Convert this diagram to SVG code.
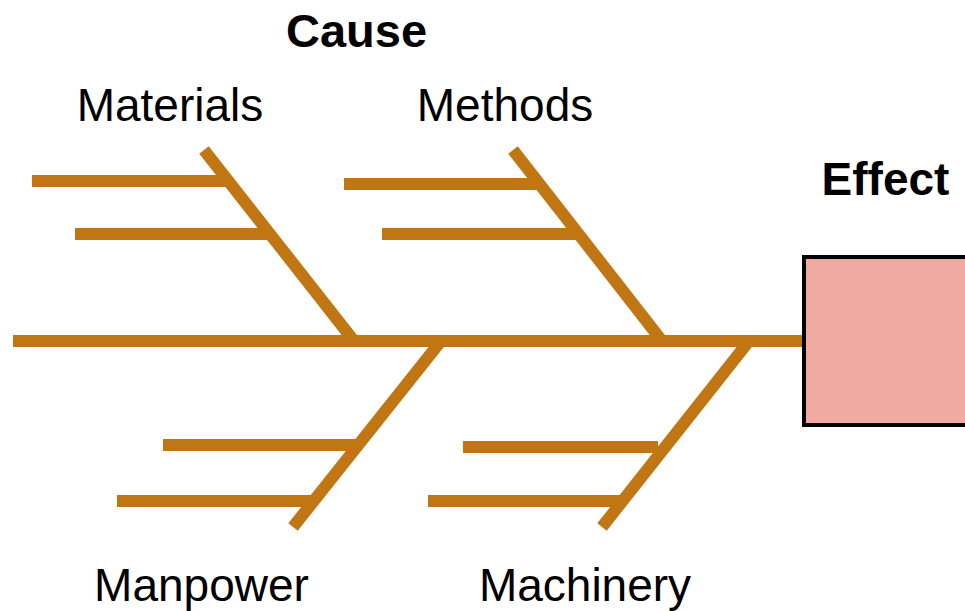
<svg xmlns="http://www.w3.org/2000/svg" width="965" height="611" viewBox="0 0 965 611">
<style>
.bone{stroke:#C07613;stroke-width:12;fill:none;stroke-linecap:butt}
.lbl{font-family:"Liberation Sans",Arial,sans-serif;font-size:46px;fill:#000;text-anchor:middle}
.hd{font-family:"Liberation Sans",Arial,sans-serif;font-size:46px;font-weight:bold;fill:#000;text-anchor:middle}
</style>
<rect width="965" height="611" fill="#fff"/>
<g id="connectors">
<line class="bone" x1="13" y1="341" x2="804" y2="341"/>
<line class="bone" x1="204" y1="150" x2="354" y2="341"/>
<line class="bone" x1="32" y1="181" x2="229" y2="181"/>
<line class="bone" x1="75" y1="234" x2="270" y2="234"/>
<line class="bone" x1="513" y1="150" x2="662" y2="341"/>
<line class="bone" x1="344" y1="184" x2="539" y2="184"/>
<line class="bone" x1="382" y1="234" x2="578" y2="234"/>
<line class="bone" x1="441" y1="341" x2="293" y2="527"/>
<line class="bone" x1="163" y1="445" x2="357" y2="445"/>
<line class="bone" x1="117" y1="501" x2="314" y2="501"/>
<line class="bone" x1="749" y1="341" x2="602" y2="527"/>
<line class="bone" x1="463" y1="447" x2="658" y2="447"/>
<line class="bone" x1="428" y1="501" x2="622" y2="501"/>
</g>
<g id="effect">
<rect x="804" y="257" width="170" height="168" fill="#F0AAA2" stroke="#000" stroke-width="4"/>
<text class="hd" x="885.5" y="195">Effect</text>
</g>
<g id="cause"><text class="hd" x="356.5" y="47" style="font-size:47px">Cause</text></g>
<g id="materials"><text class="lbl" x="170" y="121">Materials</text></g>
<g id="methods"><text class="lbl" x="505" y="121">Methods</text></g>
<g id="manpower"><text class="lbl" x="201.5" y="601">Manpower</text></g>
<g id="machinery"><text class="lbl" x="585" y="601">Machinery</text></g>
</svg>
